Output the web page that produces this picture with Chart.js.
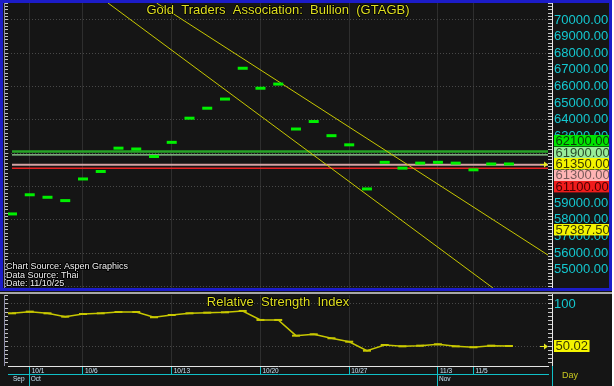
<!DOCTYPE html>
<html>
<head>
<meta charset="utf-8">
<script src="https://cdn.jsdelivr.net/npm/chart.js@4.4.1/dist/chart.umd.min.js"></script>
<style>
html,body{margin:0;padding:0;background:#ffffff;}
body{width:614px;height:386px;position:relative;overflow:hidden;}
#panelMain{position:absolute;left:0;top:0;width:612px;height:291px;background:#151515;}
#panelRsi{position:absolute;left:0;top:291px;width:612px;height:95px;background:#151515;}
#cMain{position:absolute;left:0;top:0;}
#cRsi{position:absolute;left:0;top:3px;}
#borderMain{position:absolute;left:0;top:0;width:612px;height:291px;box-sizing:border-box;border:3px solid #1c1cc8;pointer-events:none;}
#rsiTop{position:absolute;left:0;top:1px;width:612px;height:2px;background:#a8a8a8;}
.ln{position:absolute;pointer-events:none;}
</style>
</head>
<body>
<div id="panelMain">
  <canvas id="cMain" width="612" height="291"></canvas>
  <div class="ln" style="left:4px;top:3px;width:1px;height:285px;background:#8c8ca8"></div>
  <div class="ln" style="left:552px;top:3px;width:1px;height:285px;background:#e8e8e8"></div>
  <div id="borderMain"></div>
</div>
<div id="panelRsi">
  <div id="rsiTop"></div>
  <canvas id="cRsi" width="612" height="92"></canvas>
  <div class="ln" style="left:4px;top:4px;width:1px;height:71px;background:#8c8ca8"></div>
  <div class="ln" style="left:552px;top:3px;width:1px;height:72px;background:#e8e8e8"></div>
  <div class="ln" style="left:552px;top:75px;width:1px;height:20px;background:#10c0c8"></div>
</div>
<script>
// ---------------- DATA ----------------
const dates = ['9/30','10/1','10/2','10/3','10/6','10/7','10/8','10/9','10/10','10/13','10/14','10/15','10/16','10/17','10/20','10/21','10/22','10/23','10/24','10/27','10/28','10/29','10/30','10/31','11/3','11/4','11/5','11/6','11/7'];
const closes = [58350,59500,59350,59150,60450,60900,62300,62250,61800,62650,64100,64700,65250,67100,65900,66150,63450,63900,63050,62500,59850,61450,61100,61400,61450,61400,61000,61350,61350];
const rsiValues = [88.9,90.9,88.9,84.9,88.1,88.9,90.5,90.5,84.2,86.9,88.9,89.7,90.1,91.7,81.0,81.0,62.3,63.9,59.2,55.1,44.4,51.2,49.6,50.4,52.0,49.6,48.5,50.4,50.02];
const levelValues = [62100, 61900, 61300, 61100];
const upperTrendX = [8.15, 30.2];
const upperTrendY = [71016, 55877];
const lowerTrendX = [5.41, 27.1];
const lowerTrendY = [71020, 53900];
const upperTrendLabel = 57387.50;
const axisDays = ['10/1','10/6','10/13','10/20','10/27','11/3','11/5'];
const monthNames = ['Sep','Oct','Nov'];
const monthStarts = ['9/30','10/1','11/3'];
const priceLabelRange = [55000, 70000];

// ---------------- STYLE ----------------
const FONT = "'Liberation Sans', Arial, sans-serif";
const NARROW = "'Liberation Sans Narrow', 'Liberation Sans', Arial, sans-serif";
const levelLineColors = ['#26a626', '#98dc98', '#d4a4a4', '#e82020'];
const levelLineWidths = [2.5, 1.2, 2, 1.5];
const levelBoxColors = ['#00e400', '#98ec98', '#ffb4b4', '#f01c1c'];
const levelBoxText = ['#0a3a0a', '#2a4a2a', '#7a5a5a', '#4a0000'];
const CYAN = '#14c8d0';
const YELLOW = '#dede20';
const xMin = -0.225, xMax = 30.2;
const yMin = 53900, yMax = 71020;
const rMin = 26.2, rMax = 110.7;

const idx = d => dates.indexOf(d);
const dayTickIdx = axisDays.map(idx);
const monthTickIdx = monthStarts.map(idx);
function steps(a, b, s) { const o = []; for (let v = a; v <= b + 1e-9; v += s) o.push(Math.round(v * 100) / 100); return o; }
function noPad(s) { s.paddingTop = 0; s.paddingBottom = 0; s.paddingLeft = 0; s.paddingRight = 0; }
const fitW = w => s => { s.width = w; noPad(s); };
const fitH = h => s => { s.height = h; noPad(s); };

// ---------------- PLUGINS ----------------
const boxPlugin = {
  id: 'valueBoxes',
  afterDraw(chart, args, opts) {
    if (!opts || !opts.items) return;
    const ctx = chart.ctx, ys = chart.scales.y, a = chart.chartArea;
    const h = opts.boxHeight;
    const items = opts.items.map(it => Object.assign({}, it, { py: ys.getPixelForValue(it.value) }));
    const anchor = items.find(it => it.anchor);
    anchor.cy = anchor.py;
    let edge = anchor.py;
    items.filter(it => !it.anchor && it.value > anchor.value).sort((p, q) => p.value - q.value)
      .forEach(it => { it.cy = Math.min(it.py, edge - h); edge = it.cy; });
    edge = anchor.py;
    items.filter(it => !it.anchor && it.value < anchor.value).sort((p, q) => q.value - p.value)
      .forEach(it => { it.cy = Math.max(it.py, edge + h); edge = it.cy; });
    ctx.save();
    ctx.strokeStyle = opts.arrowColor; ctx.fillStyle = opts.arrowColor; ctx.lineWidth = 1;
    const ax = a.right, ay = Math.round(anchor.py) + 0.5;
    ctx.beginPath(); ctx.moveTo(ax - 8, ay); ctx.lineTo(ax - 3, ay); ctx.stroke();
    ctx.beginPath(); ctx.moveTo(ax, ay); ctx.lineTo(ax - 4, ay - 3); ctx.lineTo(ax - 4, ay + 3); ctx.closePath(); ctx.fill();
    ctx.font = opts.font; ctx.textBaseline = 'middle'; ctx.textAlign = 'left';
    items.forEach(it => {
      const label = it.value.toFixed(2);
      const w = ctx.measureText(label).width + 3;
      ctx.fillStyle = it.bg;
      ctx.fillRect(opts.x, Math.round(it.cy - h / 2), w, h);
      ctx.fillStyle = it.fg;
      ctx.fillText(label, opts.x + 1.5, it.cy + 0.5);
    });
    ctx.restore();
  }
};
const textPlugin = {
  id: 'texts',
  afterDraw(chart, args, opts) {
    if (!opts || !opts.items) return;
    const ctx = chart.ctx, a = chart.chartArea;
    opts.items.forEach(t => {
      ctx.save();
      ctx.font = t.font; ctx.textAlign = t.align || 'left'; ctx.textBaseline = 'middle';
      const x = t.x === 'center' ? (a.left + a.right) / 2 : t.x;
      if (t.stroke) { ctx.lineWidth = t.strokeWidth || 2; ctx.strokeStyle = t.stroke; ctx.lineJoin = 'round'; ctx.strokeText(t.text, x, t.y); }
      ctx.fillStyle = t.color; ctx.fillText(t.text, x, t.y);
      ctx.restore();
    });
  }
};
Chart.register(boxPlugin, textPlugin);

// ---------------- MAIN CHART ----------------
const priceTicks = steps(54000, 71000, 200);
new Chart(document.getElementById('cMain'), {
  type: 'line',
  data: {
    datasets: [
      { label: 'GTAGB', data: closes.map((v, i) => ({ x: i, y: v })), showLine: false, pointStyle: 'line',
        pointRadius: 5, pointHoverRadius: 5, pointBorderWidth: 3, pointBorderColor: '#00f000', borderColor: '#00f000', order: 0 },
      { label: 'Upper trend', data: upperTrendX.map((x, i) => ({ x, y: upperTrendY[i] })), borderColor: '#c8c800', borderWidth: 1, pointRadius: 0, order: 1 },
      { label: 'Lower trend', data: lowerTrendX.map((x, i) => ({ x, y: lowerTrendY[i] })), borderColor: '#c8c800', borderWidth: 1, pointRadius: 0, order: 1 },
      ...levelValues.map((v, k) => ({ label: 'Level ' + v, data: [{ x: 0, y: v }, { x: xMax, y: v }],
        borderColor: levelLineColors[k], borderWidth: levelLineWidths[k], pointRadius: 0, order: 2 }))
    ]
  },
  options: {
    responsive: false, animation: false, events: [],
    layout: { padding: { left: 4, right: 3, top: 3, bottom: 3 }, autoPadding: false },
    plugins: {
      legend: { display: false }, tooltip: { enabled: false },
      valueBoxes: {
        x: 554, boxHeight: 11.4, font: '13px ' + FONT, arrowColor: '#e8e820',
        items: [
          ...levelValues.map((v, k) => ({ value: v, bg: levelBoxColors[k], fg: levelBoxText[k] })),
          { value: closes[closes.length - 1], bg: '#f4f400', fg: '#3a3a00', anchor: true },
          { value: upperTrendLabel, bg: '#f4f400', fg: '#3a3a00' }
        ]
      },
      texts: {
        items: [
          { text: 'Gold  Traders  Association:  Bullion  (GTAGB)', x: 'center', y: 10, font: '13px ' + FONT, color: YELLOW, align: 'center', stroke: '#000000', strokeWidth: 1.5 },
          { text: 'Chart Source: Aspen Graphics', x: 6, y: 267, font: '9px ' + FONT, color: '#f0f0f0', stroke: '#000000', strokeWidth: 2 },
          { text: 'Data Source: Thai', x: 6, y: 275.5, font: '9px ' + FONT, color: '#f0f0f0', stroke: '#000000', strokeWidth: 2 },
          { text: 'Date: 11/10/25', x: 6, y: 284, font: '9px ' + FONT, color: '#f0f0f0', stroke: '#000000', strokeWidth: 2 }
        ]
      }
    },
    scales: {
      x: { type: 'linear', position: 'bottom', min: xMin, max: xMax,
        afterBuildTicks: s => { s.ticks = dayTickIdx.map(v => ({ value: v })); },
        ticks: { display: false }, grid: { color: '#2e2e2e', drawTicks: false }, border: { display: false },
        afterFit: fitH(0) },
      yl: { type: 'linear', position: 'left', min: yMin, max: yMax,
        afterBuildTicks: s => { s.ticks = priceTicks.map(v => ({ value: v })); },
        ticks: { display: false }, grid: { drawOnChartArea: false, tickLength: 4, tickColor: '#c4c4c4' },
        border: { display: false }, afterFit: fitW(4) },
      y: { type: 'linear', position: 'right', min: yMin, max: yMax,
        afterBuildTicks: s => { s.ticks = priceTicks.map(v => ({ value: v })); },
        ticks: { autoSkip: false, padding: 2, color: CYAN, font: { family: FONT, size: 13 },
          callback: v => (v % 1000 === 0 && v >= priceLabelRange[0] && v <= priceLabelRange[1]) ? v.toFixed(2) : '' },
        grid: { color: c => (c.tick && c.tick.value % 2000 === 0) ? '#484848' : 'rgba(0,0,0,0)', tickLength: 4, tickColor: '#c8c8c8' },
        border: { display: false, dash: [1, 2] }, afterFit: fitW(61) }
    }
  }
});

// ---------------- RSI CHART ----------------
const rsiTicks = steps(30, 110, 5);
new Chart(document.getElementById('cRsi'), {
  type: 'line',
  data: {
    datasets: [
      { label: 'RSI', data: rsiValues.map((v, i) => ({ x: i, y: v })), borderColor: '#c8c800', borderWidth: 1.5,
        pointStyle: 'line', pointRadius: 4, pointHoverRadius: 4, pointBorderWidth: 2, pointBorderColor: '#c8c800', tension: 0 }
    ]
  },
  options: {
    responsive: false, animation: false, events: [],
    layout: { padding: { left: 4, right: 3, top: 1, bottom: 0 }, autoPadding: false },
    plugins: {
      legend: { display: false }, tooltip: { enabled: false },
      valueBoxes: {
        x: 554, boxHeight: 12, font: '13px ' + FONT, arrowColor: '#e8e820',
        items: [{ value: rsiValues[rsiValues.length - 1], bg: '#f4f400', fg: '#3a3a00', anchor: true }]
      },
      texts: {
        items: [
          { text: 'Relative  Strength  Index', x: 'center', y: 8.5, font: '13px ' + FONT, color: YELLOW, align: 'center', stroke: '#000000', strokeWidth: 1.5 },
          { text: 'Day', x: 562, y: 82, font: '9px ' + FONT, color: '#c8c820' }
        ]
      }
    },
    scales: {
      x: { type: 'linear', position: 'bottom', min: xMin, max: xMax, weight: 0,
        afterBuildTicks: s => { s.ticks = dayTickIdx.map(v => ({ value: v })); },
        ticks: { autoSkip: false, maxRotation: 0, minRotation: 0, align: 'start', labelOffset: 2, padding: -7,
          color: '#c8e0f0', font: { family: NARROW, size: 6.5 }, callback: (v, i) => axisDays[i] },
        grid: { color: '#2e2e2e', tickLength: 8, tickColor: '#10c0c8' },
        border: { display: true, color: '#e4e4e4', width: 1 },
        afterFit: fitH(8) },
      x2: { type: 'linear', position: 'bottom', min: xMin, max: xMax, weight: 1,
        afterBuildTicks: s => { s.ticks = monthTickIdx.map(v => ({ value: v })); },
        ticks: { autoSkip: false, maxRotation: 0, minRotation: 0, align: 'start', labelOffset: 1, padding: -11,
          color: '#c8e0f0', font: { family: NARROW, size: 6.5 }, callback: (v, i) => monthNames[i] },
        grid: { drawOnChartArea: false, tickLength: 12, tickColor: c => c.index === 0 ? 'rgba(0,0,0,0)' : '#10c0c8' },
        border: { display: true, color: '#10c0c8', width: 1 },
        afterFit: fitH(12) },
      yl: { type: 'linear', position: 'left', min: rMin, max: rMax,
        afterBuildTicks: s => { s.ticks = rsiTicks.map(v => ({ value: v })); },
        ticks: { display: false }, grid: { drawOnChartArea: false, tickLength: 4, tickColor: '#c4c4c4' },
        border: { display: false }, afterFit: fitW(4) },
      y: { type: 'linear', position: 'right', min: rMin, max: rMax,
        afterBuildTicks: s => { s.ticks = rsiTicks.map(v => ({ value: v })); },
        ticks: { autoSkip: false, padding: 2, color: CYAN, font: { family: FONT, size: 13 },
          callback: v => v === 100 ? '100' : '' },
        grid: { color: c => (c.tick && (c.tick.value === 50 || c.tick.value === 100)) ? '#484848' : 'rgba(0,0,0,0)', tickLength: 4, tickColor: '#c8c8c8' },
        border: { display: false, dash: [1, 2] }, afterFit: fitW(61) }
    }
  }
});
</script>
</body>
</html>
